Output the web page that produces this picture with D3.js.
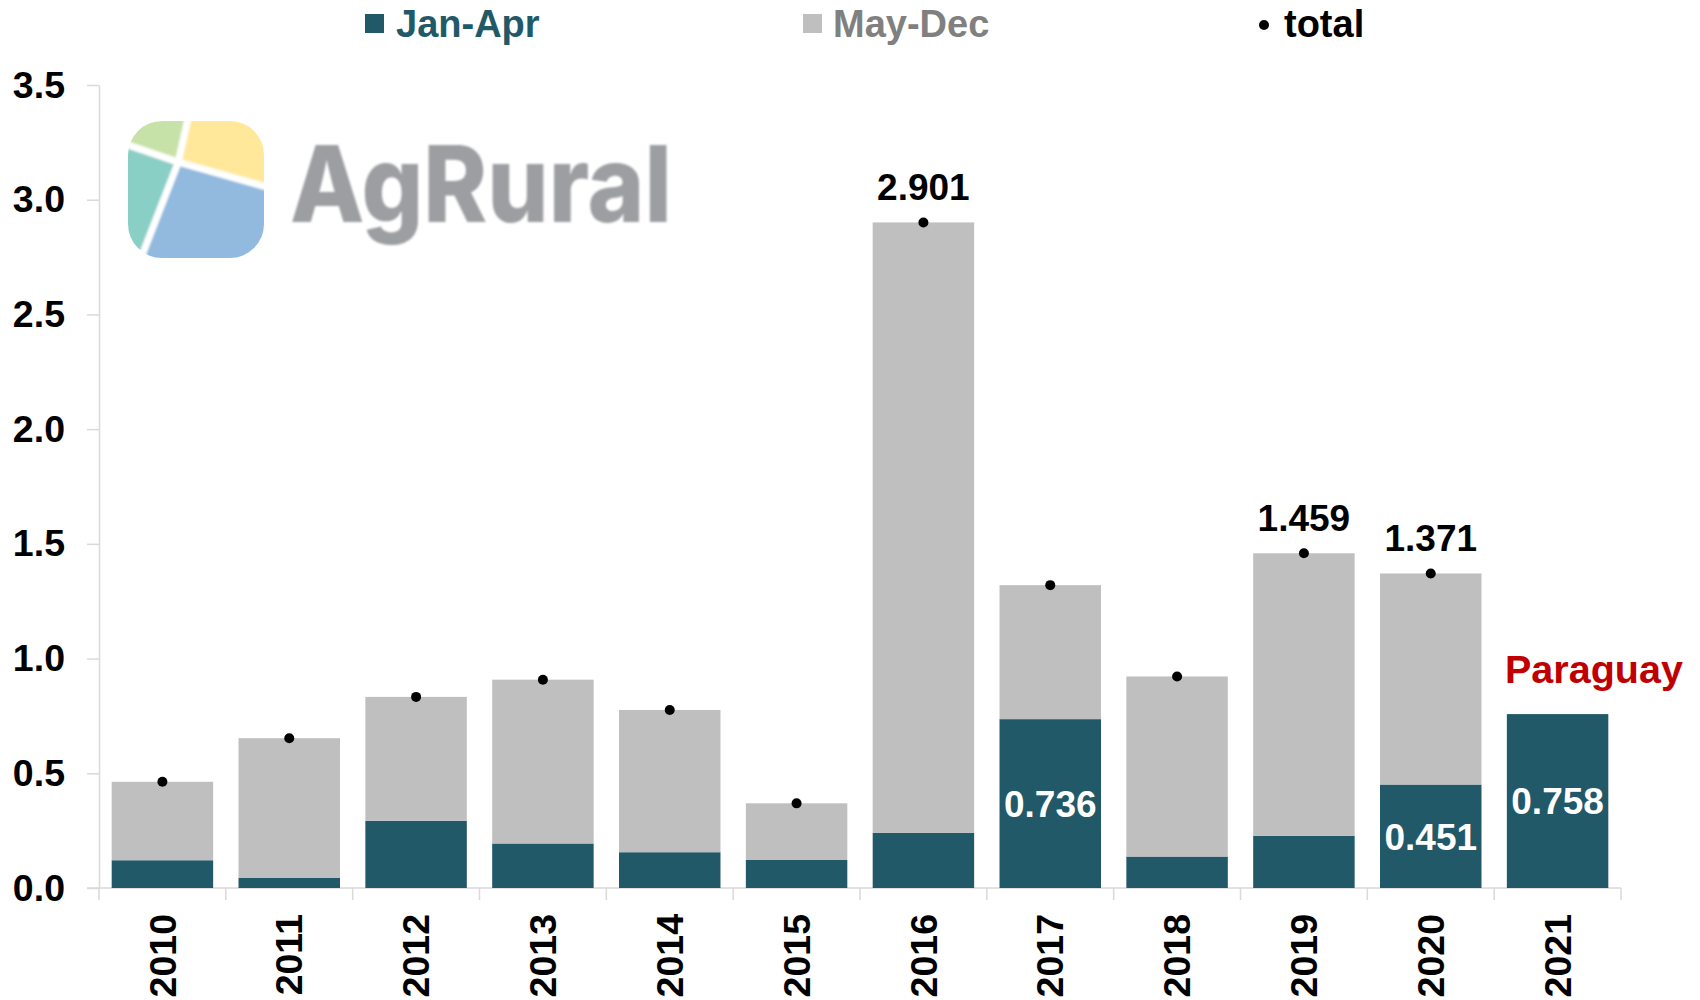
<!DOCTYPE html>
<html>
<head>
<meta charset="utf-8">
<script src="https://cdn.jsdelivr.net/npm/d3@7"></script>
<style>
  html, body { margin: 0; padding: 0; background: #ffffff; }
  svg { display: block; font-family: "Liberation Sans", Arial, sans-serif; }
</style>
</head>
<body>
<svg id="chart" width="1700" height="1000"></svg>
<script>
// Soybean exports by period, million tonnes
const years   = ["2010","2011","2012","2013","2014","2015","2016","2017","2018","2019","2020","2021"];
const janApr  = [0.121, 0.045, 0.293, 0.194, 0.156, 0.122, 0.241, 0.736, 0.137, 0.227, 0.451, 0.758];
const mayDec  = [0.342, 0.608, 0.540, 0.714, 0.620, 0.247, 2.660, 0.584, 0.785, 1.232, 0.920, 0];
const hasTotal = [true, true, true, true, true, true, true, true, true, true, true, false];
// which totals / Jan-Apr values carry a printed label
const totalLabelYears  = ["2016", "2019", "2020"];
const janAprLabelYears = ["2017", "2020", "2021"];
const yTicks = [0, 0.5, 1.0, 1.5, 2.0, 2.5, 3.0, 3.5];
const seriesNames = ["Jan-Apr", "May-Dec", "total"];

const colJan = "#215968", colMay = "#BFBFBF", colAxis = "#D9D9D9";

const rows = years.map((yr, i) => ({
  year: yr, jan: janApr[i], may: mayDec[i],
  total: janApr[i] + mayDec[i], showTotal: hasTotal[i]
}));

const svg = d3.select("#chart");
const x = d3.scaleBand().domain(years).range([99, 1621]).paddingInner(0.2).paddingOuter(0.1);
const y = d3.scaleLinear().domain([0, 3.5]).range([888, 85]);
const step = x.step();

// ---- logo ----
const logo = svg.append("g").attr("transform", "translate(128,121)");
const defs = svg.append("defs");
defs.append("filter").attr("id", "soft").append("feGaussianBlur").attr("stdDeviation", 0.8);
defs.append("clipPath").attr("id", "logoClip")
  .append("rect").attr("width", 136).attr("height", 137).attr("rx", 34).attr("ry", 34);
const S = 136, H = 137;
const c = [0.37*S, 0.30*H], T = [0.44*S, -2], L = [-2, 0.17*H], R = [S+2, 0.48*H], B = [0.09*S, H+2];
const lg = logo.append("g").attr("clip-path", "url(#logoClip)").attr("filter", "url(#soft)");
const poly = pts => "M" + pts.map(p => p.join(",")).join("L") + "Z";
lg.append("path").attr("d", poly([c, L, [-2,-2], T])).attr("fill", "#C7E2A8");
lg.append("path").attr("d", poly([c, T, [S+2,-2], R])).attr("fill", "#FFE89A");
lg.append("path").attr("d", poly([c, R, [S+2,H+2], B])).attr("fill", "#92BADF");
lg.append("path").attr("d", poly([c, B, [-2,H+2], L])).attr("fill", "#8ACFC6");
[T, L, R, B].forEach(p => lg.append("line")
  .attr("x1", c[0]).attr("y1", c[1]).attr("x2", p[0]).attr("y2", p[1])
  .attr("stroke", "#fff").attr("stroke-width", 7));
svg.append("text").attr("x", 290).attr("y", 222)
  .attr("font-family", "Inter, 'Open Sans', sans-serif").attr("font-weight", 800)
  .attr("font-size", 106).attr("fill", "#9C9EA1")
  .attr("textLength", 382).attr("lengthAdjust", "spacingAndGlyphs")
  .attr("filter", "url(#soft)")
  .text("AgRural");

// ---- y axis ----
const yAxis = svg.append("g").attr("transform", "translate(99,0)")
  .call(d3.axisLeft(y).tickValues(yTicks).tickFormat(d3.format(".1f")).tickSize(12).tickSizeOuter(0).tickPadding(22));
yAxis.select(".domain").attr("stroke", colAxis).attr("stroke-width", 1.5);
yAxis.selectAll(".tick line").attr("stroke", colAxis).attr("stroke-width", 1.5);
yAxis.selectAll(".tick text").attr("font-size", 37.5).attr("font-weight", "bold")
  .attr("fill", "#000").attr("font-family", "'Liberation Sans', Arial, sans-serif");

// ---- x axis ----
const xAxis = svg.append("g").attr("transform", "translate(0,888)")
  .call(d3.axisBottom(x).tickSize(0).tickPadding(0));
xAxis.select(".domain").remove();
xAxis.append("line").attr("x1", 87).attr("x2", 1621).attr("y1", 0).attr("y2", 0)
  .attr("stroke", colAxis).attr("stroke-width", 1.5);
const seps = years.map(yr => x(yr) - step * x.paddingInner() / 2).concat([x(years[years.length-1]) + x.bandwidth() + step * x.paddingInner() / 2]);
xAxis.selectAll("line.sep").data(seps).join("line").attr("class", "sep")
  .attr("x1", d => d).attr("x2", d => d).attr("y1", 0).attr("y2", 12)
  .attr("stroke", colAxis).attr("stroke-width", 1.5);
xAxis.selectAll(".tick text")
  .attr("font-size", 37.5).attr("font-weight", "bold").attr("fill", "#000")
  .attr("font-family", "'Liberation Sans', Arial, sans-serif")
  .attr("text-anchor", "end").attr("transform", "translate(0,26) rotate(-90)")
  .attr("y", 0).attr("x", 0).attr("dy", "0.35em");

// ---- bars ----
const bars = svg.append("g");
bars.selectAll("rect.jan").data(rows).join("rect").attr("class", "jan")
  .attr("x", d => x(d.year)).attr("width", x.bandwidth())
  .attr("y", d => y(d.jan)).attr("height", d => y(0) - y(d.jan)).attr("fill", colJan);
bars.selectAll("rect.may").data(rows.filter(d => d.may > 0)).join("rect").attr("class", "may")
  .attr("x", d => x(d.year)).attr("width", x.bandwidth())
  .attr("y", d => y(d.jan + d.may)).attr("height", d => y(d.jan) - y(d.jan + d.may)).attr("fill", colMay);

// total markers
svg.append("g").selectAll("circle").data(rows.filter(d => d.showTotal)).join("circle")
  .attr("cx", d => x(d.year) + x.bandwidth() / 2).attr("cy", d => y(d.total)).attr("r", 5).attr("fill", "#000");

// total labels
svg.append("g").selectAll("text").data(rows.filter(d => totalLabelYears.includes(d.year))).join("text")
  .attr("x", d => x(d.year) + x.bandwidth() / 2).attr("y", d => y(d.total) - 22)
  .attr("text-anchor", "middle").attr("font-size", 37).attr("font-weight", "bold").attr("fill", "#000")
  .text(d => d3.format(".3f")(d.total));

// Jan-Apr labels inside bars
svg.append("g").selectAll("text").data(rows.filter(d => janAprLabelYears.includes(d.year))).join("text")
  .attr("x", d => x(d.year) + x.bandwidth() / 2).attr("y", d => (y(d.jan) + y(0)) / 2)
  .attr("dy", "0.36em")
  .attr("text-anchor", "middle").attr("font-size", 37).attr("font-weight", "bold").attr("fill", "#fff")
  .text(d => d3.format(".3f")(d.jan));

// country note
svg.append("text").attr("x", 1505).attr("y", 683)
  .attr("font-size", 39.5).attr("font-weight", "bold").attr("fill", "#C00000").text("Paraguay");

// ---- legend ----
const leg = svg.append("g");
leg.append("rect").attr("x", 365).attr("y", 14).attr("width", 19).attr("height", 19).attr("fill", colJan);
leg.append("text").attr("x", 396).attr("y", 37).attr("font-size", 38).attr("font-weight", "bold")
  .attr("fill", colJan).text(seriesNames[0]);
leg.append("rect").attr("x", 803).attr("y", 14).attr("width", 19).attr("height", 19).attr("fill", colMay);
leg.append("text").attr("x", 833).attr("y", 37).attr("font-size", 38).attr("font-weight", "bold")
  .attr("fill", "#808080").text(seriesNames[1]);
leg.append("circle").attr("cx", 1264).attr("cy", 25).attr("r", 5).attr("fill", "#000");
leg.append("text").attr("x", 1284).attr("y", 37).attr("font-size", 38).attr("font-weight", "bold")
  .attr("fill", "#000").text(seriesNames[2]);
</script>
</body>
</html>
